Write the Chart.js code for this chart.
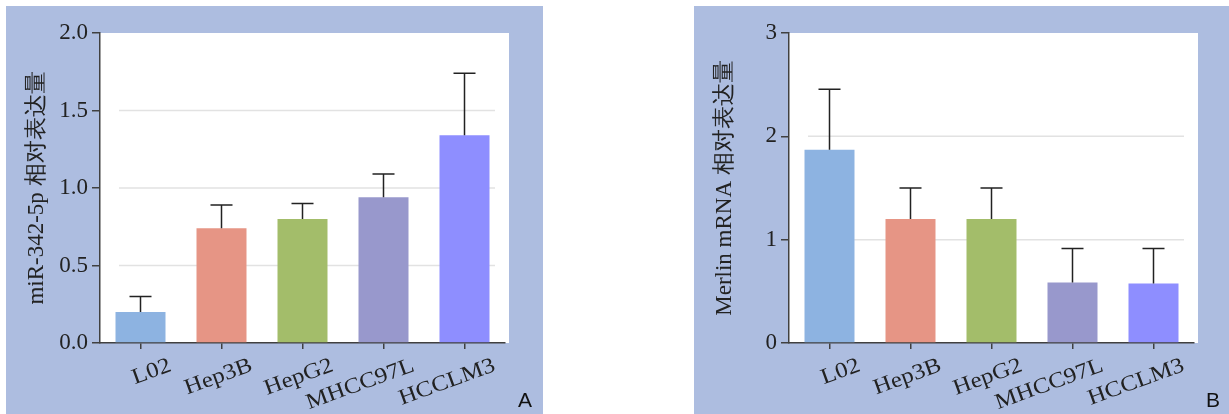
<!DOCTYPE html>
<html>
<head>
<meta charset="utf-8">
<script src="https://cdn.jsdelivr.net/npm/chart.js@4"></script>
<style>
  body { margin: 0; background: #fff; }
  canvas { position: absolute; top: 6px; background: #adbde0; }
  #chartA { left: 6px; }
  #chartB { left: 694px; }
</style>
</head>
<body>
<canvas id="chartA" width="537" height="408"></canvas>
<canvas id="chartB" width="535" height="408"></canvas>
<script>
// cell lines
var categories = ['L02', 'Hep3B', 'HepG2', 'MHCC97L', 'HCCLM3'];
var barColors = ['#8db3e1', '#e69585', '#a3bd6a', '#9898cc', '#8e8eff'];

// panel A: miR-342-5p
var mirValues = [0.20, 0.74, 0.80, 0.94, 1.34];
var mirErrors = [0.10, 0.15, 0.10, 0.15, 0.40];
var mirTicks = [0, 0.5, 1.0, 1.5, 2.0];

// panel B: Merlin mRNA
var merlinValues = [1.87, 1.20, 1.20, 0.585, 0.575];
var merlinErrors = [0.585, 0.30, 0.30, 0.33, 0.34];
var merlinTicks = [0, 1, 2, 3];

var ink = '#222';
var axisColor = '#404040';

function makeChart(id, values, errors, ticks, decimals, title, letter, yWidth, padRight) {
    var extras = {
        id: 'extras',
        beforeDraw: function (chart) {
            var a = chart.chartArea, c = chart.ctx;
            c.save();
            c.fillStyle = '#fff';
            c.fillRect(a.left, a.top, a.right - a.left + 4, a.bottom - a.top);
            c.restore();
        },
        beforeDatasetsDraw: function (chart) {
            var a = chart.chartArea, c = chart.ctx, y = chart.scales.y;
            c.save();
            c.strokeStyle = '#e2e2e2';
            c.lineWidth = 1.5;
            ticks.slice(1, -1).forEach(function (v) {
                var py = y.getPixelForValue(v);
                c.beginPath();
                c.moveTo(a.left + 19, py);
                c.lineTo(a.right - 10, py);
                c.stroke();
            });
            c.restore();
        },
        afterDatasetsDraw: function (chart) {
            var c = chart.ctx, y = chart.scales.y;
            var meta = chart.getDatasetMeta(0);
            c.save();
            c.strokeStyle = ink;
            c.lineWidth = 1.5;
            meta.data.forEach(function (bar, i) {
                var top = y.getPixelForValue(values[i] + errors[i]);
                c.beginPath();
                c.moveTo(bar.x, bar.y);
                c.lineTo(bar.x, top);
                c.moveTo(bar.x - 11, top);
                c.lineTo(bar.x + 11, top);
                c.stroke();
            });
            c.restore();
        },
        afterDraw: function (chart) {
            var c = chart.ctx, x = chart.scales.x;
            c.save();
            c.fillStyle = ink;
            c.font = '22px "Liberation Serif"';
            c.textAlign = 'right';
            c.textBaseline = 'middle';
            categories.forEach(function (label, i) {
                c.save();
                c.translate(x.getPixelForValue(i) + 30, x.top + 22);
                c.rotate(-20 * Math.PI / 180);
                c.scale(1.13, 1);
                c.fillText(label, 0, 0);
                c.restore();
            });
            c.font = '21px "Liberation Sans"';
            c.textAlign = 'left';
            c.textBaseline = 'alphabetic';
            c.fillStyle = '#111';
            c.fillText(letter, 512, 401);
            c.restore();
        }
    };

    return new Chart(document.getElementById(id), {
        type: 'bar',
        data: {
            labels: categories,
            datasets: [{
                data: values,
                backgroundColor: barColors,
                borderWidth: 0,
                barPercentage: 50 / 81,
                categoryPercentage: 1
            }]
        },
        options: {
            responsive: false,
            animation: false,
            layout: { padding: { top: 27, right: padRight, bottom: 0, left: 0 } },
            plugins: { legend: { display: false }, tooltip: { enabled: false } },
            scales: {
                x: {
                    afterFit: function (s) { s.height = 71; },
                    ticks: { display: false },
                    grid: { offset: false, drawOnChartArea: false, drawTicks: true, tickLength: 6, color: axisColor, lineWidth: 1.5 },
                    border: { display: true, color: axisColor, width: 1.5 }
                },
                y: {
                    min: ticks[0],
                    max: ticks[ticks.length - 1],
                    afterFit: function (s) { s.width = yWidth; },
                    afterBuildTicks: function (s) {
                        s.ticks = ticks.map(function (v) { return { value: v }; });
                    },
                    ticks: {
                        color: ink,
                        padding: 4,
                        font: { family: '"Liberation Serif"', size: 23 },
                        callback: function (v) { return Number(v).toFixed(decimals); }
                    },
                    grid: { drawOnChartArea: false, drawTicks: true, tickLength: 8, color: axisColor, lineWidth: 1.5 },
                    border: { display: true, color: axisColor, width: 1.5 },
                    title: {
                        display: true,
                        text: title,
                        color: ink,
                        font: { family: '"Liberation Serif"', size: 23 },
                        padding: { top: 17, bottom: 0 }
                    }
                }
            }
        },
        plugins: [extras]
    });
}

makeChart('chartA', mirValues, mirErrors, mirTicks, 1, 'miR-342-5p 相对表达量', 'A', 94, 38);
makeChart('chartB', merlinValues, merlinErrors, merlinTicks, 0, 'Merlin mRNA 相对表达量', 'B', 95, 35);
</script>
</body>
</html>
